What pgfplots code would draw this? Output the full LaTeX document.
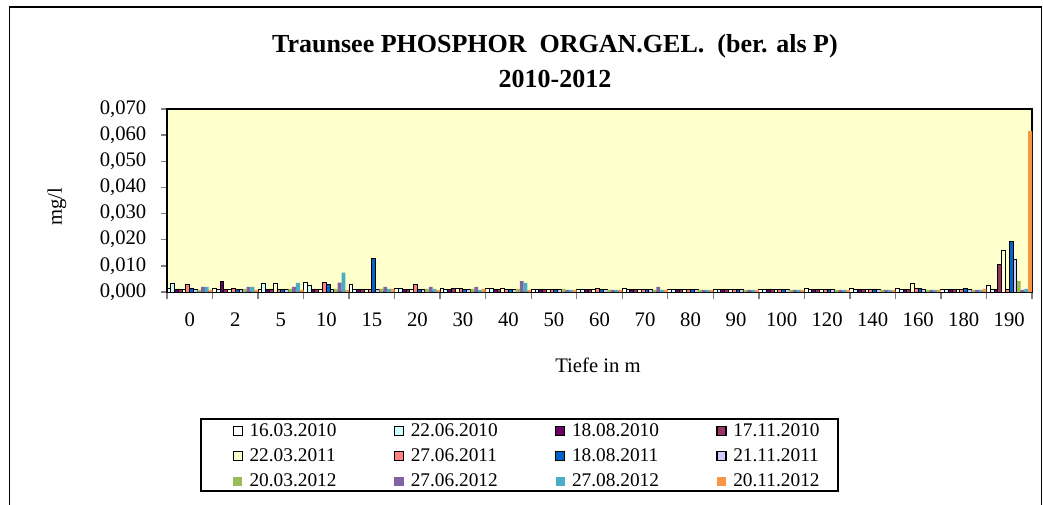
\documentclass[border=0pt]{standalone}
\usepackage{pgfplots}
\pgfplotsset{compat=1.18}
\usepackage{pgfplotstable}
\usepackage{fontspec}
\setmainfont{Liberation Serif}
\definecolor{bgy}{HTML}{FFFFCC}
\definecolor{cA}{HTML}{FFFFFF}
\definecolor{cB}{HTML}{CCFFFF}
\definecolor{cC}{HTML}{660066}
\definecolor{cD}{HTML}{993366}
\definecolor{cE}{HTML}{FFFFCC}
\definecolor{cF}{HTML}{FF8080}
\definecolor{cG}{HTML}{0066CC}
\definecolor{cH}{HTML}{CCCCFF}
\definecolor{cI}{HTML}{9BBB59}
\definecolor{cJ}{HTML}{8064A2}
\definecolor{cK}{HTML}{4BACC6}
\definecolor{cL}{HTML}{F79646}
\pgfplotstableread{
g  s1     s2     s3     s4     s5     s6     s7     s8     s9     s10    s11    s12
0  0.0012 0.0034 0.0010 0.0010 0.0010 0.0027 0.0012 0.0010 0.0008 0.0020 0.0020 0.0008
1  0.0012 0.0010 0.0042 0.0010 0.0010 0.0012 0.0010 0.0010 0.0012 0.0020 0.0020 0.0008
2  0.0010 0.0033 0.0010 0.0010 0.0033 0.0010 0.0010 0.0010 0.0012 0.0020 0.0035 0.0008
3  0.0035 0.0024 0.0010 0.0010 0.0010 0.0035 0.0027 0.0010 0.0012 0.0036 0.0074 0.0008
4  0.0027 0.0010 0.0010 0.0010 0.0010 0.0010 0.0127 0.0010 0.0012 0.0020 0.0012 0.0012
5  0.0012 0.0012 0.0010 0.0008 0.0008 0.0027 0.0010 0.0008 0.0012 0.0020 0.0012 0.0008
6  0.0012 0.0010 0.0008 0.0012 0.0012 0.0012 0.0008 0.0008 0.0012 0.0020 0.0008 0.0012
7  0.0012 0.0012 0.0008 0.0008 0.0012 0.0008 0.0008 0.0008 0.0012 0.0042 0.0035 0.0008
8  0.0008 0.0008 0.0008 0.0008 0.0008 0.0008 0.0008 0.0008 0.0012 0.0008 0.0008 0.0008
9  0.0008 0.0008 0.0008 0.0008 0.0008 0.0012 0.0008 0.0008 0.0008 0.0008 0.0008 0.0008
10 0.0012 0.0008 0.0008 0.0008 0.0008 0.0008 0.0008 0.0008 0.0008 0.0020 0.0008 0.0008
11 0.0008 0.0008 0.0008 0.0008 0.0008 0.0008 0.0008 0.0008 0.0008 0.0008 0.0008 0.0008
12 0.0008 0.0008 0.0008 0.0008 0.0008 0.0008 0.0008 0.0008 0.0008 0.0008 0.0008 0.0008
13 0.0008 0.0008 0.0008 0.0008 0.0008 0.0008 0.0008 0.0008 0.0008 0.0008 0.0008 0.0008
14 0.0012 0.0008 0.0008 0.0008 0.0008 0.0008 0.0008 0.0008 0.0008 0.0008 0.0008 0.0008
15 0.0012 0.0008 0.0008 0.0008 0.0008 0.0008 0.0008 0.0008 0.0008 0.0008 0.0008 0.0008
16 0.0012 0.0008 0.0008 0.0008 0.0034 0.0012 0.0012 0.0008 0.0008 0.0008 0.0008 0.0008
17 0.0008 0.0008 0.0008 0.0008 0.0008 0.0008 0.0012 0.0008 0.0008 0.0008 0.0008 0.0012
18 0.0026 0.0008 0.0008 0.0104 0.0158 0.0008 0.0195 0.0125 0.0042 0.0008 0.0012 0.0615
}\data
\begin{document}
\begin{tikzpicture}[x=0.75pt,y=0.75pt]
\clip (0,0) rectangle (1043,504);
\draw[line width=1pt] (9.5,-10) -- (9.5,497) -- (1041.5,497) -- (1041.5,-10);
\node[font=\bfseries\fontsize{19.5}{23}\selectfont] at (555,458) {Traunsee PHOSPHOR\ \ ORGAN.GEL.\ \ (ber. als P)};
\node[font=\bfseries\fontsize{19.5}{23}\selectfont] at (555,425) {2010-2012};
\node[rotate=90, font=\fontsize{15.5}{18}\selectfont] at (57,297) {mg/l};
\node[font=\fontsize{15.5}{18}\selectfont] at (598,139) {Tiefe in m};
\begin{axis}[
  at={(125.25pt,159pt)}, anchor=south west, scale only axis,
  width=648.75pt, height=137.25pt,
  axis background/.style={fill=bgy},
  axis line style={line width=0.9pt},
  ybar=0pt, bar width=2.845pt,
  xmin=-0.5, xmax=18.5, ymin=0, ymax=0.07,
  xtick={0,...,18},
  xticklabels={0,2,5,10,15,20,30,40,50,60,70,80,90,100,120,140,160,180,190},
  major x tick style={draw=none},
  minor xtick={-0.5,0.5,...,18.5},
  minor x tick style={line width=1pt},
  minor tick length=5.5pt, major tick length=4.5pt,
  ytick={0,0.01,0.02,0.03,0.04,0.05,0.06,0.07},
  ytick style={line width=1pt},
  tick align=outside, tick pos=left,
  scaled y ticks=false,
  /pgf/number format/assume math mode=true,
  yticklabel style={xshift=-7.5pt, /pgf/number format/.cd, fixed, fixed zerofill, precision=3, use comma},
  xticklabel style={yshift=-7.5pt},
  tick label style={font=\fontsize{15.5}{18}\selectfont},
  legend columns=4,
  legend cell align=left,
  legend image code/.code={\path[#1,line width=0.9pt] (0pt,-3.4pt) rectangle (6.8pt,3.4pt);},
  legend style={at={(0.0755,-0.6956)}, anchor=north west, draw=none, fill=none,
    font=\fontsize{14.5}{16}\selectfont, row sep=3.75pt, inner xsep=0pt, inner ysep=1pt,
    /tikz/every even column/.append style={column sep=41pt},
    /tikz/every odd column/.append style={column sep=3pt}},
]
\addplot[fill=cA, draw=black, line width=0.75pt] table[x=g,y=s1] {\data};
\addplot[fill=cB, draw=black, line width=0.75pt] table[x=g,y=s2] {\data};
\addplot[fill=cC, draw=black, line width=0.75pt] table[x=g,y=s3] {\data};
\addplot[fill=cD, draw=black, line width=0.75pt] table[x=g,y=s4] {\data};
\addplot[fill=cE, draw=black, line width=0.75pt] table[x=g,y=s5] {\data};
\addplot[fill=cF, draw=black, line width=0.75pt] table[x=g,y=s6] {\data};
\addplot[fill=cG, draw=black, line width=0.75pt] table[x=g,y=s7] {\data};
\addplot[fill=cH, draw=black, line width=0.75pt] table[x=g,y=s8] {\data};
\addplot[fill=cI, draw=none] table[x=g,y=s9] {\data};
\addplot[fill=cJ, draw=none] table[x=g,y=s10] {\data};
\addplot[fill=cK, draw=none] table[x=g,y=s11] {\data};
\addplot[fill=cL, draw=none] table[x=g,y=s12] {\data};
\legend{16.03.2010,22.06.2010,18.08.2010,17.11.2010,22.03.2011,27.06.2011,18.08.2011,21.11.2011,20.03.2012,27.06.2012,27.08.2012,20.11.2012}
\end{axis}
\draw[line width=1.3pt] (200.7,84.7) rectangle (838,13);
\end{tikzpicture}
\end{document}
